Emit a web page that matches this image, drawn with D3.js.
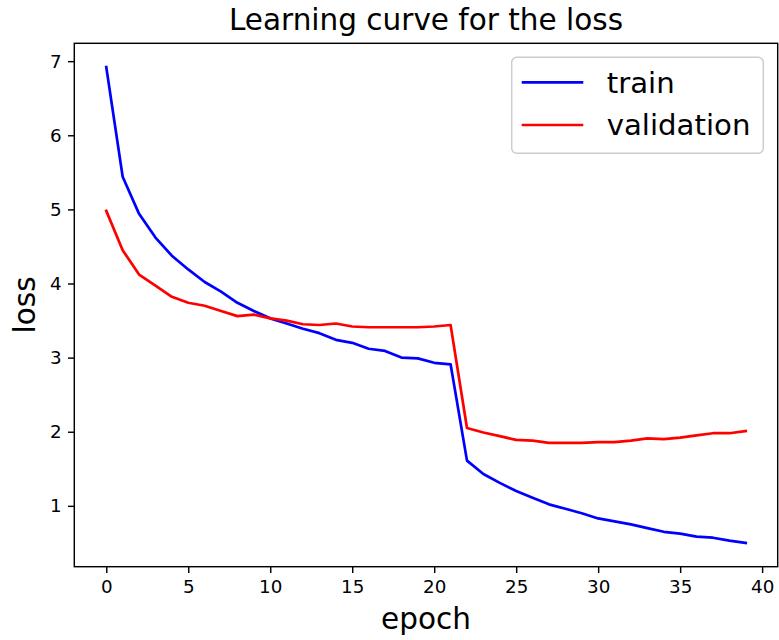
<!DOCTYPE html>
<html>
<head>
<meta charset="utf-8">
<script src="https://cdn.jsdelivr.net/npm/d3@7"></script>
<style>
  html, body { margin: 0; padding: 0; background: #fff; }
  svg { display: block; }
  text { font-family: "DejaVu Sans", sans-serif; fill: #000; }
</style>
</head>
<body>
<svg id="chart" width="779" height="640"></svg>
<script>
const epochs = d3.range(0, 40);
const train = [6.92, 5.44, 4.94, 4.62, 4.375, 4.19, 4.02, 3.89, 3.74, 3.63,
               3.53, 3.46, 3.39, 3.33, 3.24, 3.20, 3.12, 3.09, 3.00, 2.99,
               2.93, 2.91, 1.61, 1.43, 1.31, 1.20, 1.11, 1.02, 0.96, 0.90,
               0.83, 0.79, 0.75, 0.70, 0.65, 0.625, 0.585, 0.57, 0.53, 0.50];
const validation = [4.98, 4.45, 4.12, 3.97, 3.82, 3.74, 3.70, 3.63, 3.56, 3.58,
                    3.53, 3.50, 3.45, 3.44, 3.46, 3.42, 3.41, 3.41, 3.41, 3.41,
                    3.42, 3.44, 2.05, 1.99, 1.94, 1.89, 1.88, 1.85, 1.85, 1.85,
                    1.86, 1.86, 1.88, 1.91, 1.90, 1.92, 1.95, 1.98, 1.98, 2.01];
const xTicks = [0, 5, 10, 15, 20, 25, 30, 35, 40];
const yTicks = [1, 2, 3, 4, 5, 6, 7];
const seriesNames = ["train", "validation"];
const seriesColors = ["#0000ff", "#ff0000"];
const titleText = "Learning curve for the loss";
const xLabel = "epoch";
const yLabel = "loss";

const svg = d3.select("#chart");
const L = 74.3, R = 777.7, T = 43.3, B = 566.7;

function padded(ext) {
  const m = (ext[1] - ext[0]) * 0.05;
  return [ext[0] - m, ext[1] + m];
}
const x = d3.scaleLinear().domain(padded(d3.extent(epochs))).range([L, R]);
const y = d3.scaleLinear().domain(padded(d3.extent(train.concat(validation)))).range([B, T]);

// lines
const line = d3.line().x((d, i) => x(epochs[i])).y(d => y(d));
[train, validation].forEach((s, k) => {
  svg.append("path").datum(s)
    .attr("d", line)
    .attr("fill", "none")
    .attr("stroke", seriesColors[k])
    .attr("stroke-width", 2.7)
    .attr("stroke-linejoin", "round")
    .attr("stroke-linecap", "square");
});

// axes
const xAxis = d3.axisBottom(x).tickValues(xTicks).tickSize(6.3).tickPadding(6.3).tickFormat(d3.format("d"));
const yAxis = d3.axisLeft(y).tickValues(yTicks).tickSize(6.3).tickPadding(6.3).tickFormat(d3.format("d"));
const gx = svg.append("g").attr("transform", `translate(0,${B})`).call(xAxis);
const gy = svg.append("g").attr("transform", `translate(${L},0)`).call(yAxis);
[gx, gy].forEach(g => {
  g.select(".domain").remove();
  g.selectAll(".tick line").attr("stroke", "#000").attr("stroke-width", 1.44);
  g.selectAll(".tick text").attr("font-family", "DejaVu Sans").attr("font-size", 18.3).attr("fill", "#000");
});
gx.selectAll(".tick text").attr("dy", "0.76em");

// spines
svg.append("rect").attr("x", L).attr("y", T).attr("width", R - L).attr("height", B - T)
  .attr("fill", "none").attr("stroke", "#000").attr("stroke-width", 1.44);

// title & labels
svg.append("text").attr("x", (L + R) / 2).attr("y", 29.5).attr("text-anchor", "middle")
  .attr("font-size", 29.5).text(titleText);
svg.append("text").attr("x", (L + R) / 2).attr("y", 629).attr("text-anchor", "middle")
  .attr("font-size", 29.5).text(xLabel);
svg.append("text").attr("transform", `translate(35,${(T + B) / 2}) rotate(-90)`)
  .attr("text-anchor", "middle").attr("font-size", 29.5).text(yLabel);

// legend
const lg = svg.append("g");
lg.append("rect").attr("x", 511.7).attr("y", 57.3).attr("width", 251.6).attr("height", 96)
  .attr("rx", 5).attr("fill", "#fff").attr("fill-opacity", 0.8)
  .attr("stroke", "#cccccc").attr("stroke-width", 1.44);
seriesNames.forEach((n, k) => {
  const cy = 82.3 + k * 42.7;
  lg.append("line").attr("x1", 521.7).attr("x2", 583.3).attr("y1", cy).attr("y2", cy)
    .attr("stroke", seriesColors[k]).attr("stroke-width", 2.7);
  lg.append("text").attr("x", 606.7).attr("y", cy + 10.4).attr("font-size", 29.2).text(n);
});
</script>
</body>
</html>
